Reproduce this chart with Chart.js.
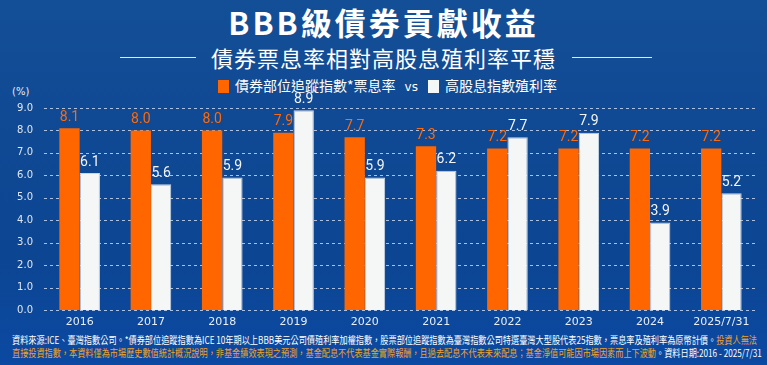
<!DOCTYPE html>
<html>
<head>
<meta charset="utf-8">
<script src="https://cdn.jsdelivr.net/npm/chart.js@4"></script>
<style>
  html, body { margin: 0; padding: 0; }
  body { width: 767px; height: 365px; overflow: hidden; }
  #wrap {
    position: relative; width: 767px; height: 365px; overflow: hidden;
    background: linear-gradient(180deg, #134f97 0%, #0f4893 40%, #0c4592 70%, #0b49a2 100%);
    font-family: "Noto Sans CJK TC", "Noto Sans", sans-serif; color: #fff;
  }
  .title {
    position: absolute; left: 0; width: 767px; top: 2px; text-align: center;
    font-size: 31px; font-weight: 700; letter-spacing: 3px; line-height: 40px;
  }
  .sub {
    position: absolute; left: 0; width: 767px; top: 42px; text-align: center;
    font-size: 22px; line-height: 30px; letter-spacing: 1px;
  }
  .hline { position: absolute; top: 57px; height: 1px; background: #dfe8f5; }
  .legend {
    position: absolute; top: 75px; left: 218px; font-size: 14px; line-height: 20px;
    white-space: nowrap;
  }
  .sw { display: inline-block; width: 11px; height: 13px; vertical-align: -2px; margin-right: 6px; }
  .unit { position: absolute; left: 12px; top: 86px; font-size: 10px; color: #e6ecf5; font-family: "DejaVu Sans", sans-serif; }
  .note {
    position: absolute; left: 12px; font-size: 10px; line-height: 12px; white-space: nowrap;
  }
  .or { color: #f2a31e; }
  #chartBox { position: absolute; left: 0; top: 90px; width: 767px; height: 240px; }
</style>
</head>
<body>
<div id="wrap">
  <div class="title">BBB級債券貢獻收益</div>
  <div class="hline" style="left:120px;width:76px"></div>
  <div class="sub">債券票息率相對高股息殖利率平穩</div>
  <div class="hline" style="left:572px;width:80px"></div>
  <div class="legend">
    <span class="sw" style="background:#ff6600"></span>債券部位追蹤指數*票息率<span style="font-size:12px;margin:0 10px 0 9px;font-family:'DejaVu Sans'">vs</span><span class="sw" style="background:#f5f7f7"></span>高股息指數殖利率
  </div>
  <div class="unit">(%)</div>
  <div id="chartBox"><canvas id="myChart"></canvas></div>
  <div class="note" id="n1" style="top:334px">資料來源:ICE、臺灣指數公司。*債券部位追蹤指數為ICE 10年期以上BBB美元公司債殖利率加權指數，股票部位追蹤指數為臺灣指數公司特選臺灣大型股代表25指數，票息率及殖利率為原幣計價。<span class="or">投資人無法</span></div>
  <div class="note" id="n2" style="top:347px"><span class="or">直接投資指數，本資料僅為市場歷史數值統計概況說明，非基金績效表現之預測，基金配息不代表基金實際報酬，且過去配息不代表未來配息；基金淨值可能因市場因素而上下波動</span>。資料日期:2016 - 2025/7/31</div>
</div>
<script>
const years = ['2016', '2017', '2018', '2019', '2020', '2021', '2022', '2023', '2024', '2025/7/31'];
const bondYield = [8.1, 8.0, 8.0, 7.9, 7.7, 7.3, 7.2, 7.2, 7.2, 7.2];
const stockYield = [6.1, 5.6, 5.9, 8.9, 5.9, 6.2, 7.7, 7.9, 3.9, 5.2];
const yTicks = [0, 1, 2, 3, 4, 5, 6, 7, 8, 9];

// fit footnote lines to width
function fitNote(id, width) {
    const el = document.getElementById(id);
    const w = el.scrollWidth;
    el.style.transformOrigin = 'left top';
    el.style.transform = 'scaleX(' + (width / w) + ')';
}
fitNote('n1', 745);
fitNote('n2', 750);

// dashed grid lines
const dashedGrid = {
    id: 'dashedGrid',
    beforeDatasetsDraw(chart) {
        const ctx = chart.ctx;
        const area = chart.chartArea;
        const y = chart.scales.y;
        ctx.save();
        ctx.strokeStyle = 'rgba(225,235,250,0.75)';
        ctx.lineWidth = 1;
        ctx.setLineDash([3, 3]);
        y.ticks.forEach(t => {
            const py = Math.round(y.getPixelForValue(t.value)) + 0.5;
            ctx.beginPath();
            ctx.moveTo(area.left, py);
            ctx.lineTo(area.right, py);
            ctx.stroke();
        });
        ctx.restore();
    }
};

// value labels above bars
const valueLabels = {
    id: 'valueLabels',
    afterDatasetsDraw(chart) {
        const ctx = chart.ctx;
        ctx.save();
        ctx.font = '14px Roboto, sans-serif';
        ctx.textAlign = 'center';
        ctx.textBaseline = 'bottom';
        chart.data.datasets.forEach((ds, i) => {
            const meta = chart.getDatasetMeta(i);
            ctx.fillStyle = i === 0 ? '#ff6a0a' : '#f2f5f8';
            meta.data.forEach((bar, j) => {
                ctx.fillText(ds.data[j].toFixed(1), bar.x, bar.y - 4);
            });
        });
        ctx.restore();
    }
};

const ctx = document.getElementById('myChart').getContext('2d');
const myChart = new Chart(ctx, {
    type: 'bar',
    data: {
        labels: years,
        datasets: [{
            label: '債券部位追蹤指數*票息率',
            data: bondYield,
            backgroundColor: '#ff6600',
            categoryPercentage: 0.57,
            barPercentage: 1.0
        }, {
            label: '高股息指數殖利率',
            data: stockYield,
            backgroundColor: '#f5f7f7',
            borderColor: '#c9d6e6',
            borderWidth: 1,
            categoryPercentage: 0.57,
            barPercentage: 1.0
        }]
    },
    options: {
        responsive: true,
        maintainAspectRatio: false,
        animation: false,
        layout: { padding: { top: 18, right: 10, left: 0, bottom: 0 } },
        plugins: {
            legend: { display: false },
            tooltip: { enabled: false }
        },
        scales: {
            x: {
                grid: { display: false, drawTicks: false },
                border: { display: false },
                ticks: {
                    color: '#e8eef7',
                    font: { size: 11, family: 'DejaVu Sans' },
                    padding: 6,
                    maxRotation: 0
                },
                afterFit: s => { s.height = 20; }
            },
            y: {
                min: 0,
                max: 9,
                afterBuildTicks: s => { s.ticks = yTicks.map(v => ({ value: v })); },
                afterFit: s => { s.width = 44; },
                border: { display: false },
                grid: { display: false, drawTicks: false },
                ticks: {
                    color: '#dfe7f2',
                    font: { size: 10, family: 'DejaVu Sans' },
                    padding: 11,
                    callback: v => v.toFixed(1)
                }
            }
        }
    },
    plugins: [dashedGrid, valueLabels]
});
</script>
</body>
</html>
